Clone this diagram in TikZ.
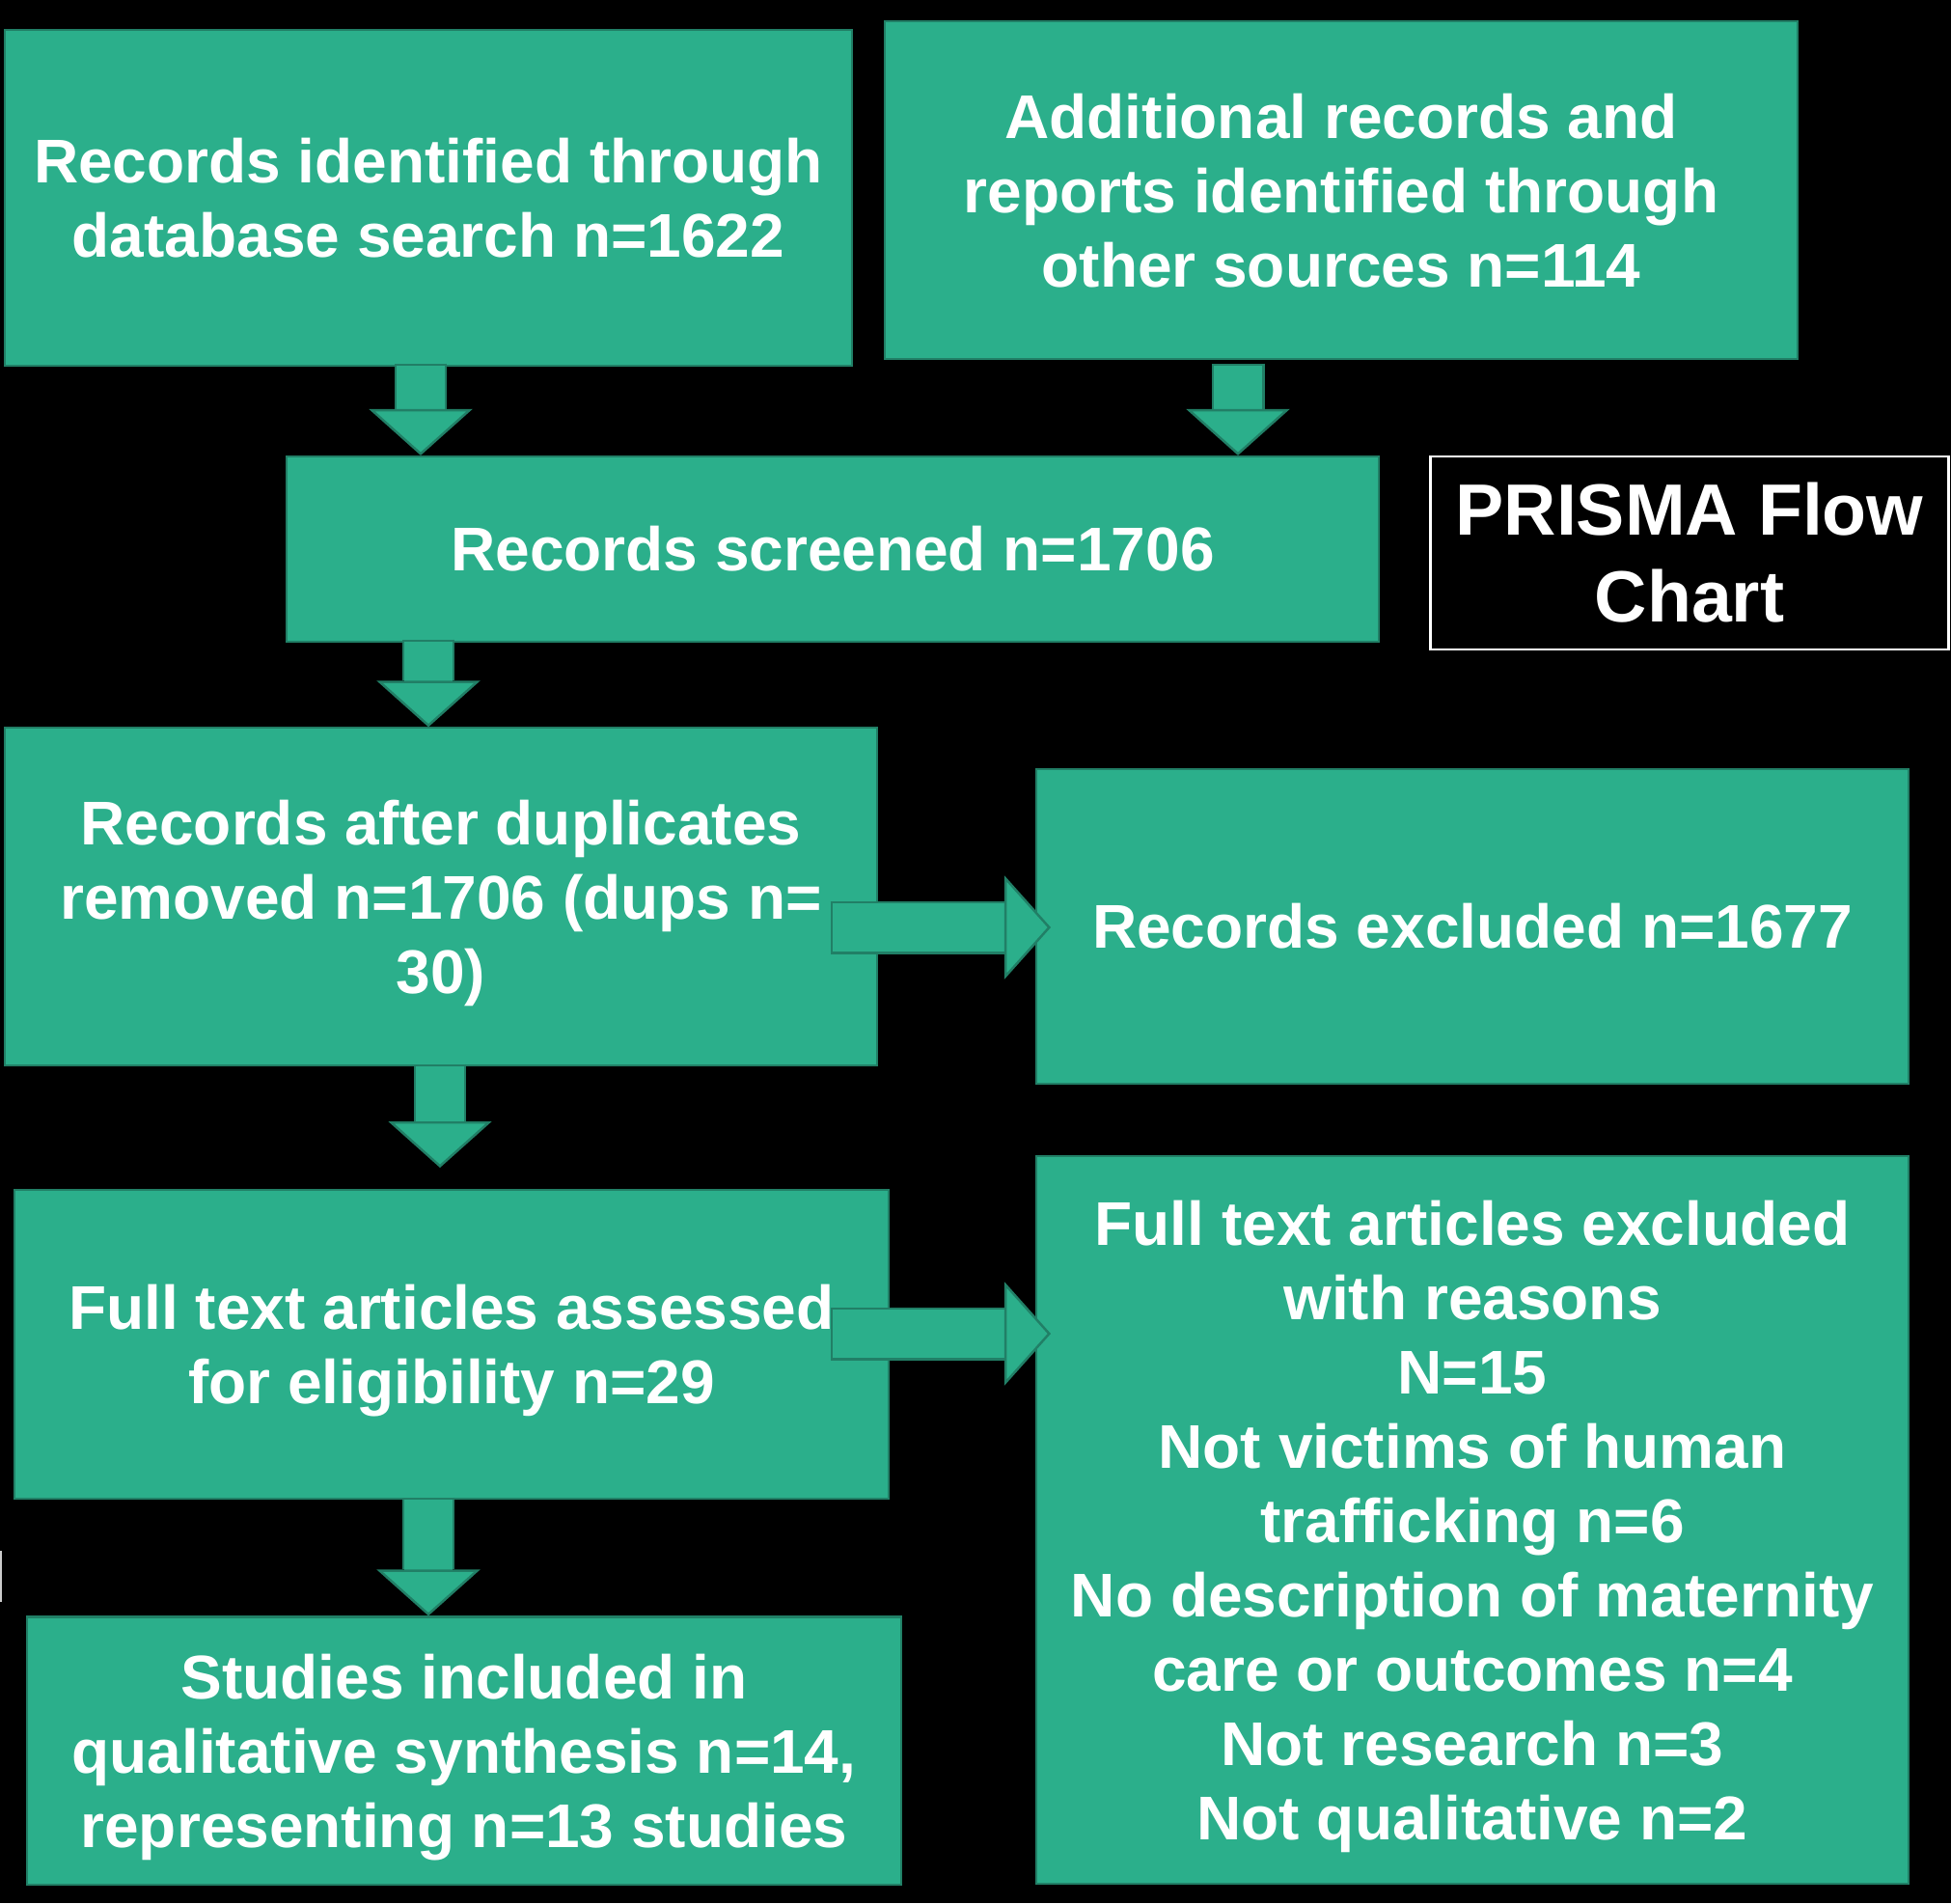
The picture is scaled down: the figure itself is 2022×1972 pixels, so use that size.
\documentclass[tikz,border=0pt]{standalone}
\usepackage{fontspec}
\setmainfont{Liberation Sans}
\usetikzlibrary{arrows.meta,positioning,calc}

\definecolor{prismagreen}{HTML}{2BAF8B}
\definecolor{prismaline}{HTML}{217F66}

\tikzset{
  stagebox/.style={fill=prismagreen, draw=prismaline, line width=0.6pt,
    text=white, font=\bfseries\fontsize{18.2}{21.9}\selectfont,
    align=center, inner sep=0pt},
  flowedge/.style={draw=prismaline, line width=0.5cm+1.4pt, shorten <=-0.7pt},
  flowarrow/.style={draw=prismagreen, line width=0.5cm,
    -{Triangle[width=1.07cm,length=0.48cm,line width=0.7pt,color=prismaline,fill=prismagreen]}},
  titlebox/.style={fill=black, draw=white, line width=0.8pt, text=white,
    font=\bfseries\fontsize{21.4}{25.6}\selectfont, align=center, inner sep=0pt}
}

\begin{document}
\begin{tikzpicture}[x=0.01cm,y=-0.01cm]
        \fill[black] (0,0) rectangle (2022,1972);
        \useasboundingbox (0,0) rectangle (2022,1972);

        \node[stagebox, minimum width=8.78cm, minimum height=3.48cm] (db) at (444,205)
              {Records identified through\\database search n=1622};
        \node[stagebox, minimum width=9.45cm, minimum height=3.49cm, text depth=-1.4pt] (other) at (1390,197)
              {Additional records and\\reports identified through\\other sources n=114};
        \node[stagebox, minimum width=11.31cm, minimum height=1.92cm] (screen) at (863,569)
              {Records screened n=1706};
        \node[titlebox, minimum width=5.36cm, minimum height=2.00cm] (title) at (1751,573)
              {PRISMA Flow\\Chart};
        \node[stagebox, minimum width=9.04cm, minimum height=3.49cm, text depth=-0.5pt] (dups) at (457,929)
              {Records after duplicates\\removed n=1706 (dups n=\\30)};
        \node[stagebox, minimum width=9.04cm, minimum height=3.26cm] (excl) at (1526,960)
              {Records excluded n=1677};
        \node[stagebox, minimum width=9.06cm, minimum height=3.20cm, text depth=-0.75pt] (full) at (468,1393)
              {Full text articles assessed\\for eligibility n=29};
        \node[stagebox, minimum width=9.04cm, minimum height=7.54cm, text depth=-1.9pt] (reasons) at (1526,1575)
              {Full text articles excluded\\with reasons\\N=15\\Not victims of human\\trafficking n=6\\No description of maternity\\care or outcomes n=4\\Not research n=3\\Not qualitative n=2};
        \node[stagebox, minimum width=9.06cm, minimum height=2.77cm, text depth=-0.75pt] (incl) at (481,1814)
              {Studies included in\\qualitative synthesis n=14,\\representing n=13 studies};

        % arrow ends
        \coordinate (a1) at (436,379);
        \coordinate (a1e) at (a1 |- screen.north);
        \coordinate (a2) at (1283,379);
        \coordinate (a2e) at (a2 |- screen.north);
        \coordinate (a3) at (444,665);
        \coordinate (a3e) at (a3 |- dups.north);
        \coordinate (a4) at (456,1105);
        \coordinate (a4e) at (456,1210);
        \coordinate (a5) at (444,1554);
        \coordinate (a5e) at (a5 |- incl.north);
        \coordinate (r1) at (863,961);
        \coordinate (r1e) at (1089,961);
        \coordinate (r2) at (863,1382);
        \coordinate (r2e) at (1089,1382);

        \foreach \from/\to in {a1/a1e, a2/a2e, a3/a3e, a4/a4e, a5/a5e, r1/r1e, r2/r2e} {
          \draw[flowedge] (\from) -- ($(\to)!0.48cm!(\from)$);
          \draw[flowarrow] (\from) -- (\to);
        }

        \draw[white!80!black, line width=0.6pt] (1,1607) -- (1,1660);
      \end{tikzpicture}
\end{document}
